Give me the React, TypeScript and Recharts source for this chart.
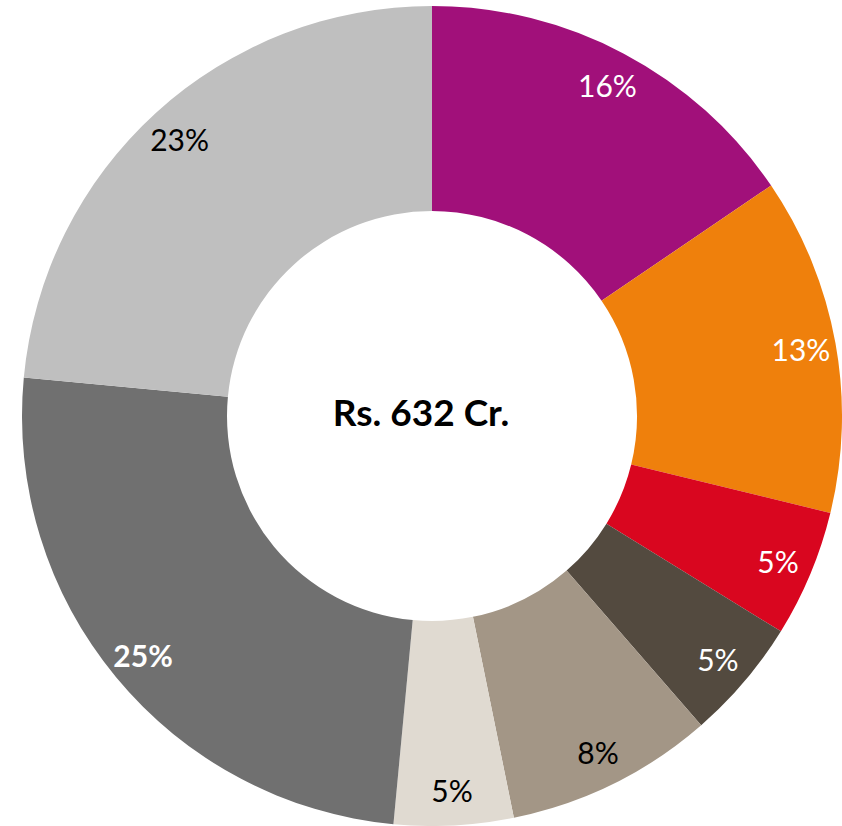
import { PieChart, Pie, Cell, Label } from "recharts";

const segments = ["A", "B", "C", "D", "E", "F", "G", "H"];
const shares = [15.5, 13.3, 5.0, 4.8, 8.2, 4.7, 25.0, 23.5];
const shareLabels = ["16%", "13%", "5%", "5%", "8%", "5%", "25%", "23%"];
const totalLabel = "Rs. 632 Cr.";

const colors = ["#A1107A", "#EF800C", "#D9061F", "#534A3F", "#A39686", "#E0DAD1", "#707070", "#BFBFBF"];
const labelColors = ["#FFFFFF", "#FFFFFF", "#FFFFFF", "#FFFFFF", "#000000", "#000000", "#FFFFFF", "#000000"];
const labelWeights = ["normal", "normal", "normal", "normal", "normal", "normal", "bold", "normal"];

const data = segments.map((name, i) => ({ name, value: shares[i] }));

const FONT = "Lato, 'Open Sans', sans-serif";
const RAD = Math.PI / 180;

// percent label sitting near the outer edge of each slice
const renderLabel = (props: any) => {
  const { cx, cy, midAngle, index } = props;
  const r = 375;
  const x = cx + r * Math.cos(-midAngle * RAD);
  const y = cy + r * Math.sin(-midAngle * RAD);
  return (
    <text
      x={x}
      y={y}
      fill={labelColors[index]}
      textAnchor="middle"
      dominantBaseline="central"
      fontFamily={FONT}
      fontSize={30}
      fontWeight={labelWeights[index]}
    >
      {shareLabels[index]}
    </text>
  );
};

const App = () => {
  return (
    <div style={{ position: "absolute", left: 0, top: 0, background: "#fff" }}>
      <PieChart width={842} height={826}>
        <Pie
          data={data}
          dataKey="value"
          nameKey="name"
          cx={427}
          cy={411}
          innerRadius={205}
          outerRadius={410}
          startAngle={90}
          endAngle={-270}
          stroke="none"
          label={renderLabel}
          labelLine={false}
          isAnimationActive={false}
        >
          {data.map((d, i) => (
            <Cell key={d.name} fill={colors[i]} />
          ))}
          <Label
            value={totalLabel}
            position="center"
            fill="#000"
            fontFamily={FONT}
            fontSize={37}
            fontWeight="bold"
          />
        </Pie>
      </PieChart>
    </div>
  );
};

export default App;
